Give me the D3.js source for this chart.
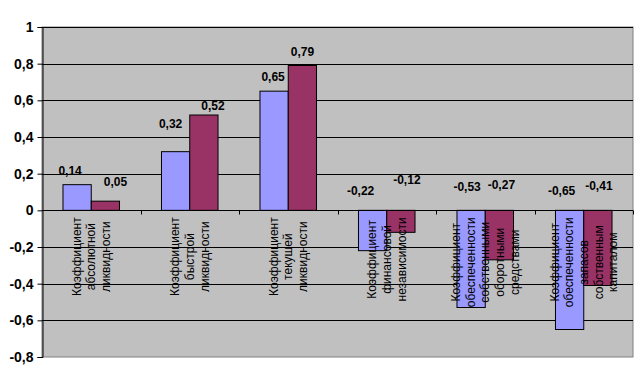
<!DOCTYPE html>
<html lang="ru">
<head>
<meta charset="utf-8">
<title>Коэффициенты</title>
<script src="https://cdn.jsdelivr.net/npm/d3@7"></script>
<style>
  body { margin: 0; background: #fff; }
  text { font-family: "Liberation Sans", Arial, sans-serif; fill: #000; }
  .ytick { font-size: 14px; font-weight: bold; }
  .val { font-size: 12px; font-weight: bold; }
  .cat { font-size: 12px; }
</style>
</head>
<body>
<script>
// data
const categories = [
  ["Коэффициент", "абсолютной", "ликвидности"],
  ["Коэффициент", "быстрой", "ликвидности"],
  ["Коэффициент", "текущей", "ликвидности"],
  ["Коэффициент", "финансовой", "независимости"],
  ["Коэффициент", "обеспеченности", "собственными", "оборотными", "средствами"],
  ["Коэффициент", "обеспеченности", "запасов", "собственным", "капиталом"]
];
const seriesA = [0.14, 0.32, 0.65, -0.22, -0.53, -0.65];
const seriesB = [0.05, 0.52, 0.79, -0.12, -0.27, -0.41];
const yTicks = [-0.8, -0.6, -0.4, -0.2, 0, 0.2, 0.4, 0.6, 0.8, 1];

// label nudges (Excel placed them a bit unevenly)
const nudgeA = [[-7, -14], [-5, -28], [-1, -14], [-12, -20], [-4, -24], [-8, -20]];
const nudgeB = [[10, -19], [9, -9], [0, -14], [6, -31], [2, -26], [1, -25]];

const width = 638, height = 384;
const plot = { left: 42, right: 633, top: 27, bottom: 357 };
const colors = ["#9999FF", "#993366"];

const svg = d3.select("body").append("svg")
  .attr("width", width).attr("height", height);

const x = d3.scaleBand()
  .domain(d3.range(categories.length))
  .range([plot.left, plot.right])
  .padding(0);
const bw = x.bandwidth();
const xs = d3.scaleBand()
  .domain([0, 1])
  .range([bw * 0.213, bw * 0.787]);

const y = d3.scaleLinear().domain([-0.8, 1]).range([plot.bottom, plot.top]);
const fmt = v => String(v).replace(".", ",");

// plot area
svg.append("rect")
  .attr("x", plot.left).attr("y", plot.top)
  .attr("width", plot.right - plot.left).attr("height", plot.bottom - plot.top)
  .attr("fill", "#C0C0C0").attr("stroke", "#808080").attr("stroke-width", 1);

// gridlines
svg.append("g").selectAll("line")
  .data(yTicks.filter(t => t > -0.8))
  .join("line")
  .attr("x1", plot.left).attr("x2", plot.right)
  .attr("y1", d => Math.round(y(d)) + 0.5).attr("y2", d => Math.round(y(d)) + 0.5)
  .attr("stroke", "#000");

// y axis
const yAxis = d3.axisLeft(y).tickValues(yTicks).tickSize(5).tickPadding(4)
  .tickFormat(d => fmt(+d.toFixed(1)));
const yG = svg.append("g").attr("transform", `translate(${plot.left + 0.5},0)`).call(yAxis);
yG.selectAll(".tick text").attr("class", "ytick").attr("font-size", null).attr("font-family", null);
yG.select(".domain").attr("stroke", "#000");

// bars
const series = [seriesA, seriesB];
const groups = svg.append("g").selectAll("g")
  .data(categories)
  .join("g")
  .attr("transform", (d, i) => `translate(${x(i)},0)`);

series.forEach((vals, s) => {
  groups.append("rect")
    .attr("x", (d, i) => xs(s))
    .attr("y", (d, i) => y(Math.max(0, vals[i])))
    .attr("width", xs.bandwidth())
    .attr("height", (d, i) => Math.abs(y(vals[i]) - y(0)))
    .attr("fill", colors[s])
    .attr("stroke", "#000")
    .attr("stroke-width", 1);
});

// zero axis with category ticks
const zy = Math.round(y(0)) + 0.5;
svg.append("line")
  .attr("x1", plot.left).attr("x2", plot.right)
  .attr("y1", zy).attr("y2", zy).attr("stroke", "#000");
svg.append("g").selectAll("line")
  .data(d3.range(1, categories.length + 1))
  .join("line")
  .attr("x1", i => Math.round(plot.left + i * bw) + 0.5)
  .attr("x2", i => Math.round(plot.left + i * bw) + 0.5)
  .attr("y1", zy).attr("y2", zy + 4)
  .attr("stroke", "#000");

// value labels
const nudges = [nudgeA, nudgeB];
series.forEach((vals, s) => {
  groups.append("text")
    .attr("class", "val")
    .attr("text-anchor", "middle")
    .attr("dy", "0.35em")
    .attr("x", (d, i) => xs(s) + xs.bandwidth() / 2 + nudges[s][i][0])
    .attr("y", (d, i) => (vals[i] >= 0 ? y(vals[i]) : y(0)) + nudges[s][i][1])
    .text((d, i) => fmt(vals[i]));
});

// category labels, rotated, lines centred on longest one
const lineGap = 14.7;
groups.each(function (lines) {
  const g = d3.select(this);
  const n = lines.length;
  const texts = lines.map((t, k) => g.append("text")
    .attr("class", "cat")
    .attr("text-anchor", "middle")
    .attr("dy", "0.35em")
    .text(t));
  const maxLen = d3.max(texts, t => t.node().getComputedTextLength());
  const cy = y(0) + 7 + maxLen / 2;
  texts.forEach((t, k) => {
    const cx = bw / 2 + (k - (n - 1) / 2) * lineGap;
    t.attr("transform", `translate(${cx},${cy}) rotate(-90)`);
  });
});
</script>
</body>
</html>
